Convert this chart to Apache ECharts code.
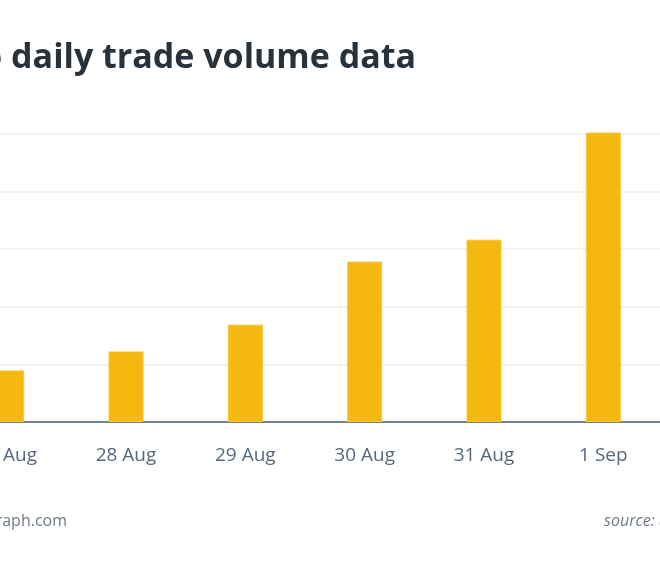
<!DOCTYPE html>
<html>
<head>
<meta charset="utf-8">
<script src="https://cdn.jsdelivr.net/npm/echarts@6/dist/echarts.min.js"></script>
<style>
html,body{margin:0;padding:0;background:#fff;overflow:hidden;width:660px;height:577px;position:relative;}
#chart{position:absolute;left:-53px;top:0;width:716px;height:577px;}
</style>
</head>
<body>
<div id="chart"></div>
<script>
const titleText = 'Uniswap daily trade volume data';
const footerLeft = 'cointelegraph.com';
const footerRight = 'source: uniswap.info';
const categories = ['27 Aug', '28 Aug', '29 Aug', '30 Aug', '31 Aug', '1 Sep'];
const volumes = [179, 245, 338, 557, 633, 1005];
const yMin = 0, yMax = 1000, yInterval = 200;

const OFF = 53; // container is shifted left by this many pixels
const chart = echarts.init(document.getElementById('chart'));
chart.setOption({
  backgroundColor: '#ffffff',
  animation: false,
  graphic: [
    { type: 'text', x: 416 + OFF, y: 58, style: { text: titleText, font: 'bold 34px "Open Sans"', fill: '#28323b', textAlign: 'right', textVerticalAlign: 'middle' } },
    { type: 'text', x: 67 + OFF, y: 521, style: { text: footerLeft, font: '16px "Open Sans"', fill: '#6f7a84', textAlign: 'right', textVerticalAlign: 'middle' } },
    { type: 'text', x: 604 + OFF, y: 521, style: { text: footerRight, font: 'italic 16px "Open Sans"', fill: '#6f7a84', textAlign: 'left', textVerticalAlign: 'middle' } }
  ],
  grid: { left: 0, right: 0, top: 134, bottom: 155, containLabel: false },
  xAxis: {
    type: 'category',
    data: categories,
    axisTick: { show: false },
    axisLine: { lineStyle: { color: '#76848f', width: 2 } },
    axisLabel: { color: '#56687a', fontFamily: 'Open Sans', fontSize: 19, margin: 24 }
  },
  yAxis: {
    type: 'value',
    min: yMin, max: yMax, interval: yInterval,
    axisLabel: { show: false },
    axisLine: { show: false },
    axisTick: { show: false },
    splitLine: { lineStyle: { color: '#f2f2f2', width: 2 } }
  },
  series: [{
    type: 'bar',
    data: volumes,
    barWidth: 35,
    clip: false,
    itemStyle: { color: '#f4b80e', borderColor: '#f7c53a', borderWidth: 1 }
  }]
});
</script>
</body>
</html>
